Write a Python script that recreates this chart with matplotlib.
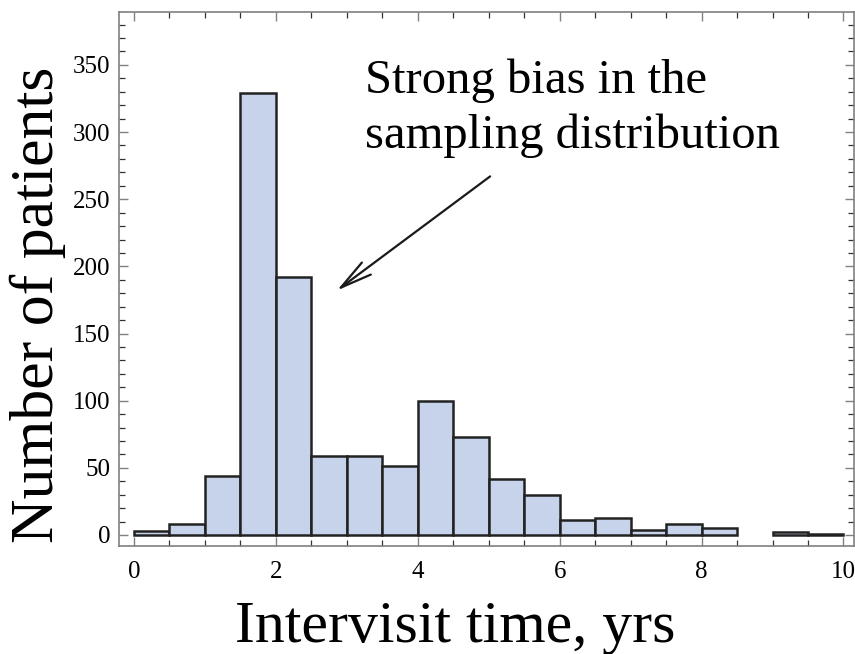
import numpy as np
import matplotlib
matplotlib.use("Agg")
import matplotlib.pyplot as plt
from matplotlib.ticker import MultipleLocator

# ---- data ----
bin_left = [0.0, 0.5, 1.0, 1.5, 2.0, 2.5, 3.0, 3.5, 4.0, 4.5,
            5.0, 5.5, 6.0, 6.5, 7.0, 7.5, 8.0, 8.5, 9.0, 9.5]
counts = [3, 8, 44, 329, 192, 59, 59, 51, 100, 73,
          42, 30, 11, 13, 4, 8, 5, 0, 2, 1]
bin_width = 0.5
x_ticks = [0, 2, 4, 6, 8, 10]
y_ticks = [0, 50, 100, 150, 200, 250, 300, 350]
x_label = "Intervisit time, yrs"
y_label = "Number of patients"
note = "Strong bias in the\nsampling distribution"

plt.rcParams['font.family'] = ['Liberation Serif', 'DejaVu Serif']

W, H = 855, 654
fig = plt.figure(figsize=(W / 100, H / 100), dpi=100)
ax = fig.add_axes([119 / W, 1 - 546 / H, (854 - 119) / W, (546 - 12) / H])

lefts = np.array(bin_left)
vals = np.array(counts)
mask = vals > 0
ax.bar(lefts[mask], vals[mask], width=bin_width, align='edge',
       color='#c7d3ea', edgecolor='#222222', linewidth=1.8, zorder=2)

ax.set_xlim(-0.21, 10.148)
ax.set_ylim(-8.2, 389.4)
ax.set_xticks(x_ticks)
ax.set_yticks(y_ticks)
ax.xaxis.set_minor_locator(MultipleLocator(0.5))
ax.yaxis.set_minor_locator(MultipleLocator(10))

for s in ax.spines.values():
    s.set_color('#808080')
    s.set_linewidth(1.2)

ax.tick_params(which='both', direction='in', top=True, right=True,
               labelsize=18)
ax.tick_params(which='major', length=6.5, width=1.0, color='#808080')
ax.tick_params(which='minor', length=4, width=0.9, color='#333333')
ax.tick_params(axis='x', which='major', pad=11)
ax.tick_params(axis='y', which='major', pad=6)

fig.text(53 / W, 1 - 543 / H, y_label, rotation=90, rotation_mode='anchor',
         ha='left', va='baseline', fontsize=44.5)
fig.text(455 / W, 1 - 642 / H, x_label, ha='center', va='baseline',
         fontsize=43)

ax.text(3.256, 288.4, note, ha='left', va='baseline', fontsize=35,
        linespacing=1.3)
ax.annotate('', xy=(2.86, 182), xytext=(5.02, 267),
            arrowprops=dict(arrowstyle='->,head_length=1.15,head_width=0.27',
                            lw=1.6, color='#1a1a1a', shrinkA=0, shrinkB=0,
                            mutation_scale=20))

fig.savefig('out.png', dpi=100)
